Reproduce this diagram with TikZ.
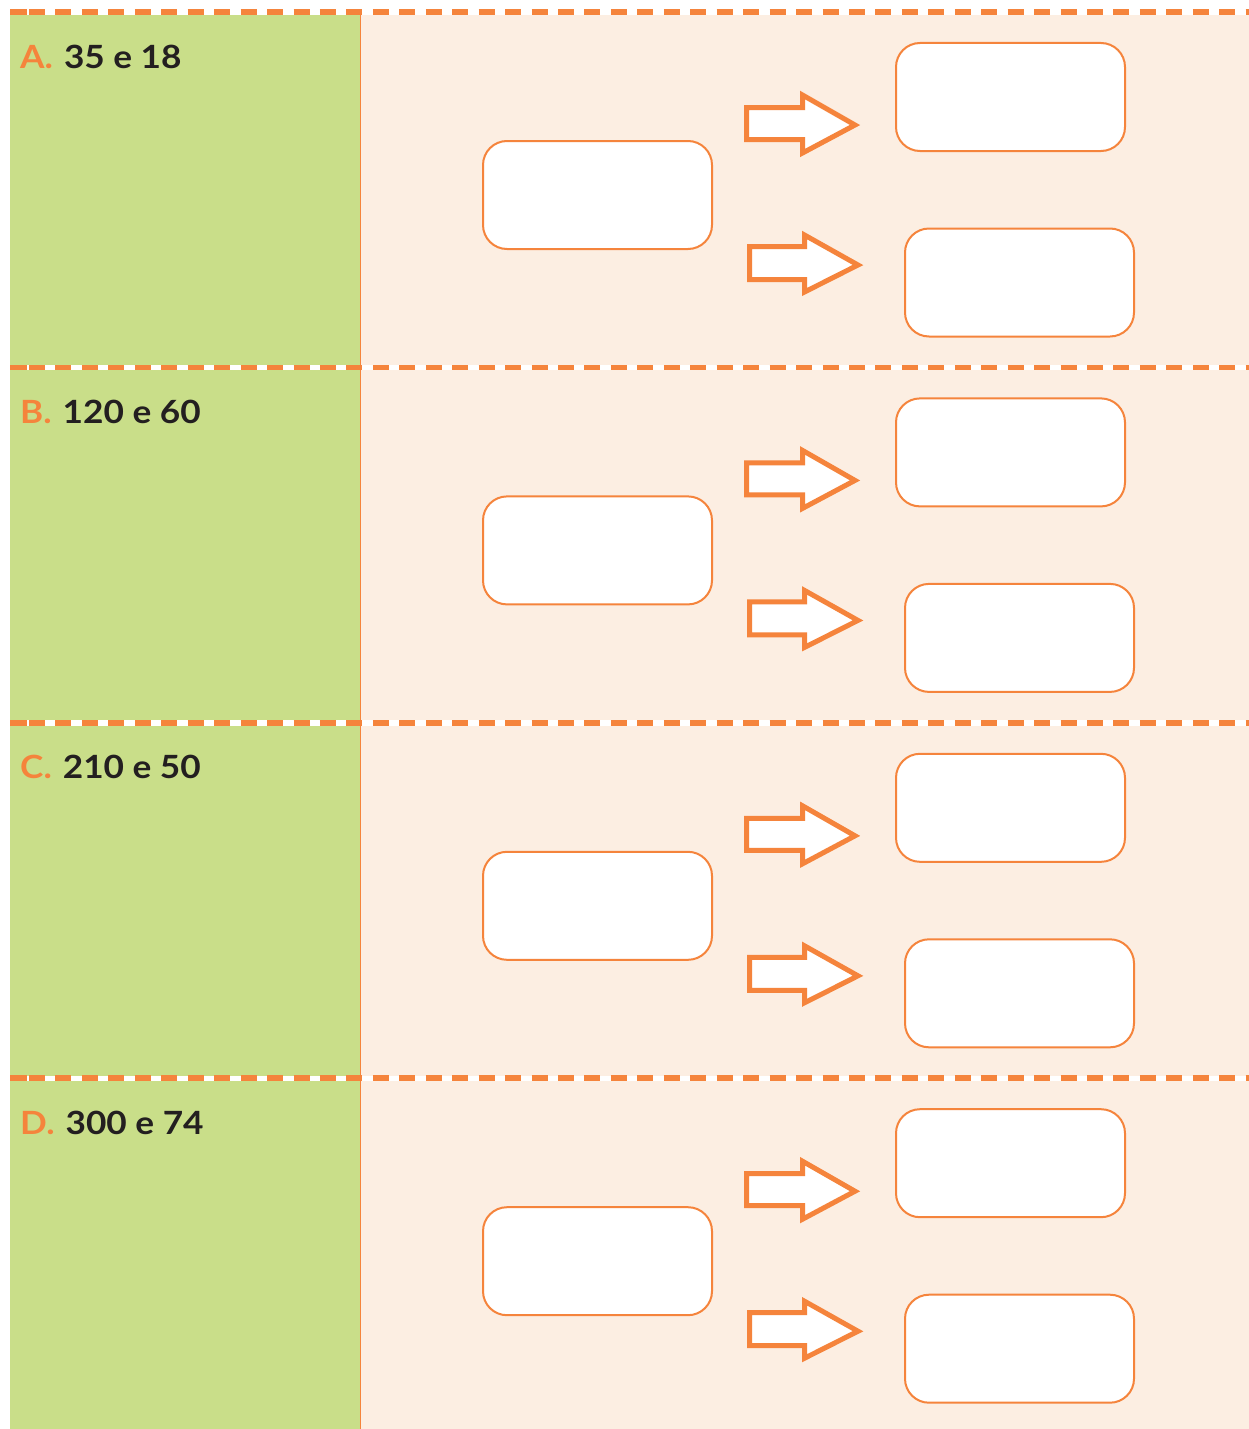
\documentclass[tikz,border=0pt]{standalone}
\usepackage{fontspec}
\setmainfont{Lato}[FakeStretch=1.1]
\definecolor{panelgreen}{HTML}{C9DE89}
\definecolor{panelpeach}{HTML}{FCEEE2}
\definecolor{lineorange}{HTML}{F5843C}
\definecolor{textdark}{HTML}{231F20}
\tikzset{
  answerbox/.style={draw=lineorange, line width=2, fill=white, rounded corners=24,
    minimum width=229, minimum height=108, inner sep=0},
  blockarrow/.style={draw=lineorange, line width=5, fill=white, line join=miter},
  sepline/.style={draw=lineorange, line width=5.5, dash pattern=on 16 off 10.45},
  rowlabel/.style={anchor=base west, inner sep=0, font=\fontsize{32}{36}\selectfont\bfseries, text=textdark}
}
\begin{document}
\begin{tikzpicture}[x=1pt,y=-1pt]
\useasboundingbox (0,0) rectangle (1249,1429);
\fill[white] (0,0) rectangle (1249,1429);
\fill[panelgreen] (10,15) rectangle (360,1429);
\fill[panelpeach] (360,15) rectangle (1249,1429);
\draw[lineorange, line width=1.5] (360.5,15) -- (360.5,1429);
\foreach \r/\lab/\txt in {0/A/35 e 18, 1/B/120 e 60, 2/C/210 e 50, 3/D/300 e 74}{
  \begin{scope}[yshift=-355.4*\r]
    \fill[white] (10,9.3) rectangle (1249,14.8);
    \draw[sepline] (29,12) -- (1249,12);
    \draw[lineorange, line width=5.5] (10,12) -- (26.7,12);
    \node[rowlabel] (lab\lab) at (20,68) {\textcolor{lineorange}{\lab.}\hspace{11pt}\txt};
    \node[answerbox] (left\lab) at (597.5,195) {};
    \node[answerbox] (up\lab) at (1010.5,97) {};
    \node[answerbox] (down\lab) at (1019.5,282.5) {};
    \path[blockarrow] (746.5,107.5) -- (802.5,107.5) -- (802.5,95) -- (855,125)
      -- (802.5,153) -- (802.5,139.5) -- (746.5,139.5) -- cycle;
    \path[blockarrow] (749.5,246.5) -- (804.5,246.5) -- (804.5,235) -- (858,265)
      -- (804.5,292) -- (804.5,279.5) -- (749.5,279.5) -- cycle;
  \end{scope}
}
\end{tikzpicture}
\end{document}
